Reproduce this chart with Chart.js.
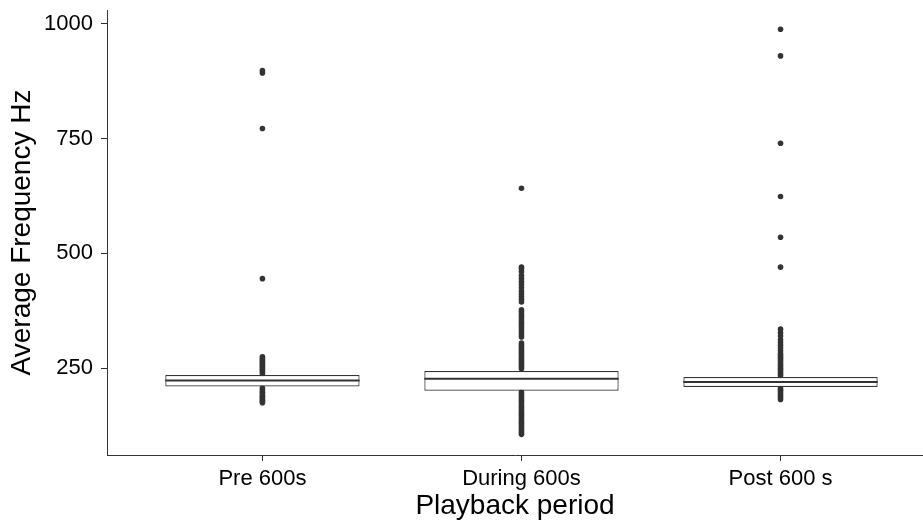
<!DOCTYPE html>
<html>
<head>
<meta charset="utf-8">
<script src="https://cdn.jsdelivr.net/npm/chart.js@4"></script>
<style>
  html, body { margin: 0; padding: 0; background: #fff; }
  canvas { display: block; }
</style>
</head>
<body>
<canvas id="chart" width="923" height="523"></canvas>
<script>
// values
const categories = ['Pre 600s', 'During 600s', 'Post 600 s'];
const q1 = [210, 201, 209];
const median = [223, 227, 220];
const q3 = [235, 244, 231];
const whiskerLow = [176, 137, 182];
const whiskerHigh = [272, 305, 264];

const preOutliers = [
    238, 242, 245, 248, 251, 254, 257, 260, 263, 266, 269, 272, 275,
    445, 772, 893, 898,
    207, 203, 199, 196, 192, 189, 186, 183, 180, 177, 175
];
const duringOutliers = [
    249, 253, 257, 261, 265, 269, 273, 277, 281, 285, 289, 293, 297, 301, 305,
    318, 323, 328, 333, 338, 343, 348, 353, 358, 363, 368, 373, 377,
    394, 400, 406, 412, 418, 425, 432, 438, 445, 452, 460, 466, 470,
    642,
    198, 194, 190, 186, 182, 178, 174, 170, 166, 162, 158, 154, 150, 146,
    142, 138, 134, 130, 126, 122, 118, 114, 110, 106
];
const postOutliers = [
    234, 238, 242, 246, 250, 254, 258, 262, 266, 270, 274, 278, 282,
    288, 294, 300, 306, 312, 320, 327, 335,
    470, 535, 624, 740, 930, 988,
    206, 202, 198, 194, 190, 186, 182
];
const yTickValues = [250, 500, 750, 1000];

const boxWidth = 0.75;
const ink = '#333333';
const fontFamily = '"Liberation Sans", Arial, Helvetica, sans-serif';

function buildMedians(){
    const pts = [];
    for(let i = 0; i<categories.length; i++){
        pts.push({x: i + 1 - boxWidth / 2, y: median[i]});
        pts.push({x: i + 1 + boxWidth / 2, y: median[i]});
        pts.push({x: i + 1.5, y: null});
    }
    return pts;
}

function buildWhiskers(){
    const pts = [];
    for(let i = 0; i<categories.length; i++){
        pts.push({x: i + 1, y: q3[i]}, {x: i + 1, y: whiskerHigh[i]}, {x: i + 1, y: null});
        pts.push({x: i + 1, y: q1[i]}, {x: i + 1, y: whiskerLow[i]}, {x: i + 1, y: null});
    }
    return pts;
}

function buildOutliers(){
    const pts = [];
    [preOutliers, duringOutliers, postOutliers].forEach((list, i) => {
        list.forEach(v => pts.push({x: i + 1, y: v}));
    });
    return pts;
}

const canvas = document.getElementById('chart');

new Chart(canvas, {
    type: 'bar',
    data: {
        datasets: [
            {
                type: 'line',
                label: 'median',
                data: buildMedians(),
                borderColor: ink,
                borderWidth: 2,
                pointRadius: 0,
                spanGaps: false,
                order: 0
            },
            {
                type: 'bar',
                label: 'box',
                data: categories.map((c, i) => ({x: i + 1, y: [q1[i], q3[i]]})),
                backgroundColor: '#ffffff',
                borderColor: ink,
                borderWidth: 1.2,
                borderSkipped: false,
                grouped: false,
                categoryPercentage: 1,
                barPercentage: boxWidth,
                order: 1
            },
            {
                type: 'line',
                label: 'whiskers',
                data: buildWhiskers(),
                borderColor: ink,
                borderWidth: 1,
                pointRadius: 0,
                spanGaps: false,
                order: 2
            },
            {
                type: 'scatter',
                label: 'outliers',
                data: buildOutliers(),
                backgroundColor: ink,
                borderWidth: 0,
                pointRadius: 2.8,
                order: 3
            }
        ]
    },
    options: {
        responsive: false,
        animation: false,
        layout: { autoPadding: false, padding: { top: 10, left: 0, right: 0, bottom: 0 } },
        plugins: {
            legend: { display: false },
            tooltip: { enabled: false }
        },
        scales: {
            x: {
                type: 'linear',
                min: 0.4,
                max: 3.55,
                offset: false,
                afterBuildTicks: (s) => { s.ticks = categories.map((c, i) => ({value: i + 1})); },
                afterFit: (s) => { s.height = 68; s.paddingLeft = 0; s.paddingRight = 0; },
                grid: { drawOnChartArea: false, drawTicks: true, tickLength: 6, color: ink, offset: false },
                border: { display: true, color: ink, width: 1 },
                ticks: {
                    autoSkip: false,
                    maxRotation: 0,
                    padding: 5,
                    color: '#000',
                    font: { family: fontFamily, size: 22 },
                    callback: (v) => categories[v - 1]
                },
                title: {
                    display: true,
                    text: 'Playback period',
                    color: '#000',
                    font: { family: fontFamily, size: 28 },
                    padding: { top: 0, bottom: 0 }
                }
            },
            y: {
                type: 'linear',
                min: 61,
                max: 1030,
                beginAtZero: false,
                afterBuildTicks: (s) => { s.ticks = yTickValues.map(v => ({value: v})); },
                afterFit: (s) => { s.width = 107; s.paddingTop = 0; s.paddingBottom = 0; },
                grid: { drawOnChartArea: false, drawTicks: true, tickLength: 6, color: ink },
                border: { display: true, color: ink, width: 1 },
                ticks: {
                    padding: 8,
                    color: '#000',
                    font: { family: fontFamily, size: 22 },
                    callback: (v) => String(v)
                },
                title: {
                    display: true,
                    text: 'Average Frequency Hz',
                    color: '#000',
                    font: { family: fontFamily, size: 28 },
                    padding: { top: 5, bottom: 0 }
                }
            }
        }
    }
});
</script>
</body>
</html>
